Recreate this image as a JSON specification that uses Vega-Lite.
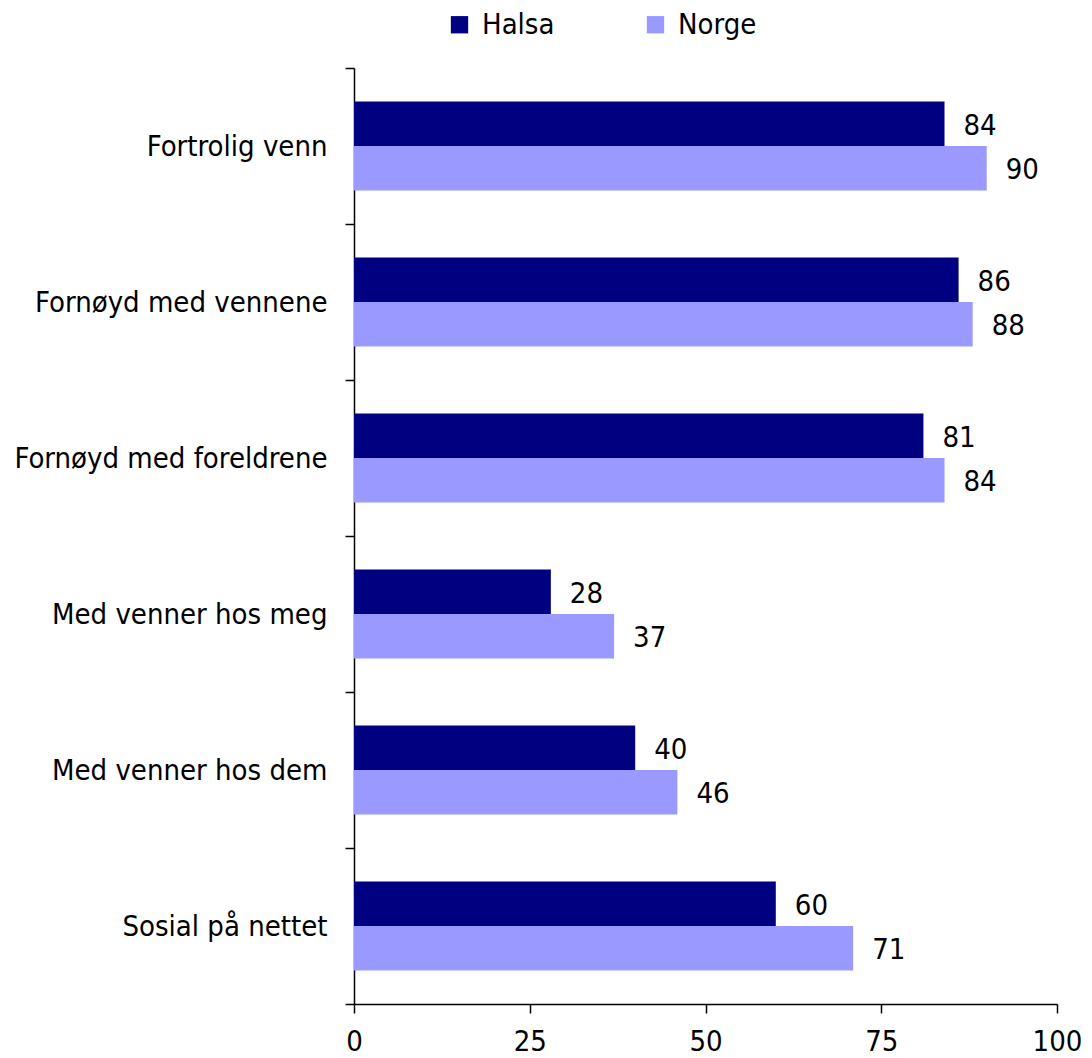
{
  "$schema": "https://vega.github.io/schema/vega-lite/v6.json",
  "width": 703,
  "height": 936,
  "autosize": {"type": "none"},
  "padding": {"left": 354, "top": 68, "right": 35, "bottom": 54},
  "config": {
    "view": {"stroke": null},
    "font": "DejaVu Sans Condensed, DejaVu Sans",
    "axis": {
      "domainColor": "black",
      "tickColor": "black",
      "labelColor": "black",
      "domainWidth": 1.5,
      "tickWidth": 1.5,
      "labelFont": "DejaVu Sans Condensed, DejaVu Sans",
      "labelFontSize": 29,
      "grid": false,
      "title": null
    }
  },
  "data": {
    "values": [
      {"cat": "Fortrolig venn", "series": "Halsa", "value": 84},
      {"cat": "Fortrolig venn", "series": "Norge", "value": 90},
      {"cat": "Fornøyd med vennene", "series": "Halsa", "value": 86},
      {"cat": "Fornøyd med vennene", "series": "Norge", "value": 88},
      {"cat": "Fornøyd med foreldrene", "series": "Halsa", "value": 81},
      {"cat": "Fornøyd med foreldrene", "series": "Norge", "value": 84},
      {"cat": "Med venner hos meg", "series": "Halsa", "value": 28},
      {"cat": "Med venner hos meg", "series": "Norge", "value": 37},
      {"cat": "Med venner hos dem", "series": "Halsa", "value": 40},
      {"cat": "Med venner hos dem", "series": "Norge", "value": 46},
      {"cat": "Sosial på nettet", "series": "Halsa", "value": 60},
      {"cat": "Sosial på nettet", "series": "Norge", "value": 71}
    ]
  },
  "encoding": {
    "y": {
      "field": "cat",
      "type": "nominal",
      "sort": ["Fortrolig venn", "Fornøyd med vennene", "Fornøyd med foreldrene", "Med venner hos meg", "Med venner hos dem", "Sosial på nettet"],
      "scale": {"paddingInner": 0, "paddingOuter": 0},
      "axis": {"tickBand": "extent", "tickSize": 9, "labelPadding": 18, "labelLimit": 400}
    },
    "yOffset": {
      "field": "series",
      "type": "nominal",
      "sort": ["Halsa", "Norge"],
      "scale": {"paddingInner": 0, "paddingOuter": 0.75}
    },
    "x": {
      "field": "value",
      "type": "quantitative",
      "scale": {"domain": [0, 100]},
      "axis": {"values": [0, 25, 50, 75, 100], "tickSize": 9, "labelPadding": 14, "labelFlush": false}
    }
  },
  "layer": [
    {
      "mark": {"type": "bar"},
      "encoding": {
        "color": {
          "field": "series",
          "type": "nominal",
          "scale": {"domain": ["Halsa", "Norge"], "range": ["#000080", "#9999FF"]},
          "legend": {
            "title": null,
            "orient": "none",
            "direction": "horizontal",
            "legendX": 91,
            "legendY": -58,
            "padding": 0,
            "symbolType": "square",
            "symbolSize": 300,
            "symbolStrokeWidth": 0,
            "labelFontSize": 29,
            "labelFont": "DejaVu Sans Condensed, DejaVu Sans",
            "labelColor": "black",
            "labelOffset": 8,
            "columnPadding": 86
          }
        }
      }
    },
    {
      "mark": {"type": "text", "align": "left", "baseline": "middle", "dx": 19, "dy": 2, "fontSize": 29, "font": "DejaVu Sans Condensed, DejaVu Sans", "color": "black"},
      "encoding": {"text": {"field": "value", "type": "quantitative"}}
    }
  ]
}
